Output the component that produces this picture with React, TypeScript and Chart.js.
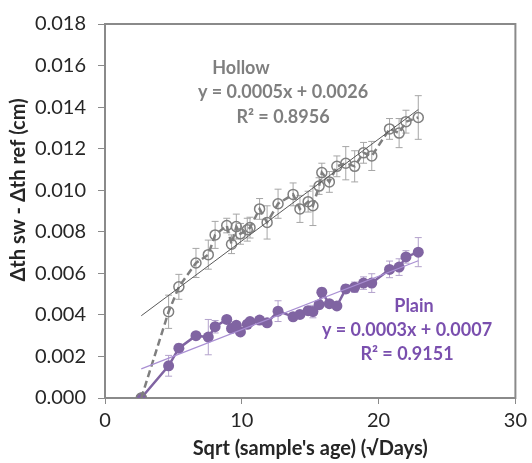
import React, { useEffect, useRef } from "react";
import { Chart, registerables } from "chart.js";
Chart.register(...registerables);

// x: sqrt of sample age (√days)
const ageSqrt = [2.65, 4.65, 5.4, 6.65, 7.55, 8.05, 8.9, 9.25, 9.6, 9.9, 10.4, 10.6, 11.3, 11.85, 12.65, 13.75, 14.25, 14.85, 15.2, 15.65, 15.85, 16.4, 16.95, 17.6, 18.25, 18.9, 19.5, 20.8, 21.5, 22.0, 22.9];
const hollow = [0, 0.00415, 0.00535, 0.0065, 0.0069, 0.00785, 0.0083, 0.0074, 0.00825, 0.0079, 0.0081, 0.0082, 0.0091, 0.00845, 0.00935, 0.0098, 0.0091, 0.00945, 0.00925, 0.0102, 0.01085, 0.0104, 0.01115, 0.0113, 0.01115, 0.0118, 0.01165, 0.01295, 0.01275, 0.0133, 0.0135];
const hollowErr = [0, 0.0008, 0.0006, 0.0007, 0.0007, 0.00065, 0.00035, 0.00045, 0.0006, 0.0005, 0.00055, 0.0005, 0.0005, 0.0008, 0.0007, 0.00055, 0.00065, 0.0005, 0.00095, 0.0004, 0.00045, 0.0005, 0.0005, 0.0008, 0.00075, 0.0005, 0.0007, 0.0005, 0.0007, 0.00055, 0.00105];
const plain = [0, 0.00155, 0.0024, 0.003, 0.00293, 0.00343, 0.00378, 0.00335, 0.0035, 0.00318, 0.00355, 0.00368, 0.00375, 0.00362, 0.00418, 0.00391, 0.00402, 0.0042, 0.00416, 0.00449, 0.00509, 0.00454, 0.00443, 0.00525, 0.00533, 0.00553, 0.00553, 0.00619, 0.0063, 0.00679, 0.00702];
const plainErr = [0, 0.0005, 0.0002, 0.00015, 0.00085, 0.0003, 0.0001, 0.0002, 0.00015, 0.00015, 0.00015, 0.00015, 0.0001, 0.00015, 0.0005, 0.00015, 0.00015, 0.0002, 0.0003, 0.0002, 0.0002, 0.00015, 0.00015, 0.0002, 0.00025, 0.0003, 0.00045, 0.0004, 0.0004, 0.0003, 0.0007];
// linear fits [slope, intercept]
const hollowFit = [0.00049, 0.00266];
const plainFit = [0.000257, 0.00072];
const hollowLabels = ["Hollow", "y = 0.0005x + 0.0026", "R² = 0.8956"];
const plainLabels = ["Plain", "y = 0.0003x + 0.0007", "R² = 0.9151"];
const xTitle = "Sqrt (sample's age) (√Days)";
const yTitle = "Δth sw - Δth ref (cm)";

const GRAY = "#7f7f7f";
const PURPLE = "#8064a2";
const PURPLE_TEXT = "#7a4fae";
const FONT = "Lato, 'Open Sans', sans-serif";

const pts = (ys: number[]) => ageSqrt.map((x, i) => ({ x, y: ys[i] }));
const fitPts = (f: number[]) => {
  const x0 = ageSqrt[0];
  const x1 = ageSqrt[ageSqrt.length - 1];
  return [
    { x: x0, y: f[0] * x0 + f[1] },
    { x: x1, y: f[0] * x1 + f[1] },
  ];
};

export default function App() {
  const ref = useRef<HTMLCanvasElement>(null);
  useEffect(() => {
    if (!ref.current) return;
    const errorPlugin = {
      id: "errbars",
      beforeDatasetsDraw(chart: any) {
        const { ctx, scales } = chart;
        const xs = scales.x, ys = scales.y;
        const { left, top, right, bottom } = chart.chartArea;
        ctx.save();
        ctx.strokeStyle = "#8a8a8a";
        ctx.lineWidth = 2;
        ctx.strokeRect(left, top, right - left, bottom - top);
        const draw = (vals: number[], errs: number[], color: string) => {
          ctx.strokeStyle = color;
          ctx.lineWidth = 1;
          ageSqrt.forEach((x, i) => {
            if (!errs[i]) return;
            const px = xs.getPixelForValue(x);
            const y1 = ys.getPixelForValue(vals[i] + errs[i]);
            const y2 = ys.getPixelForValue(vals[i] - errs[i]);
            ctx.beginPath();
            ctx.moveTo(px, y1);
            ctx.lineTo(px, y2);
            ctx.moveTo(px - 3.5, y1);
            ctx.lineTo(px + 3.5, y1);
            ctx.moveTo(px - 3.5, y2);
            ctx.lineTo(px + 3.5, y2);
            ctx.stroke();
          });
        };
        draw(hollow, hollowErr, "#a6a6a6");
        draw(plain, plainErr, "#b3a2cc");
        ctx.restore();
      },
      afterDraw(chart: any) {
        const { ctx } = chart;
        ctx.save();
        ctx.textAlign = "center";
        ctx.textBaseline = "middle";
        ctx.font = `bold 18px ${FONT}`;
        ctx.fillStyle = GRAY;
        ctx.fillText(hollowLabels[0], 241, 68);
        ctx.fillText(hollowLabels[1], 283, 92);
        ctx.fillText(hollowLabels[2], 283, 117);
        ctx.fillStyle = PURPLE_TEXT;
        ctx.fillText(plainLabels[0], 414, 306);
        ctx.fillText(plainLabels[1], 407, 330);
        ctx.fillText(plainLabels[2], 407, 354);
        // y axis title
        ctx.translate(19, 190);
        ctx.rotate(-Math.PI / 2);
        ctx.font = `bold 20px ${FONT}`;
        ctx.fillStyle = "#262626";
        ctx.fillText(yTitle, 0, 0);
        ctx.restore();
      },
    };
    const chart = new Chart(ref.current, {
      type: "scatter",
      data: {
        datasets: [
          {
            label: "Hollow fit",
            data: fitPts(hollowFit),
            showLine: true,
            borderColor: "#595959",
            borderWidth: 1,
            pointRadius: 0,
          },
          {
            label: "Plain fit",
            data: fitPts(plainFit),
            showLine: true,
            borderColor: "#a98fd3",
            borderWidth: 1.2,
            pointRadius: 0,
          },
          {
            label: "Hollow",
            data: pts(hollow),
            showLine: true,
            borderColor: GRAY,
            borderWidth: 2.5,
            borderDash: [7, 4],
            pointRadius: 5,
            pointBorderWidth: 1.5,
            pointBorderColor: GRAY,
            pointBackgroundColor: "rgba(0,0,0,0)",
          },
          {
            label: "Plain",
            data: pts(plain),
            showLine: true,
            borderColor: PURPLE,
            borderWidth: 2.5,
            pointRadius: 5.5,
            pointBorderWidth: 0,
            pointBackgroundColor: PURPLE,
          },
        ],
      },
      options: {
        responsive: true,
        maintainAspectRatio: false,
        animation: false,
        layout: { padding: { top: 16, right: 12, left: 0, bottom: 0 } },
        plugins: { legend: { display: false }, tooltip: { enabled: false } },
        scales: {
          x: {
            type: "linear",
            min: 0,
            max: 30,
            ticks: { stepSize: 10, color: "#262626", font: { family: FONT, size: 20 }, padding: 5 },
            grid: { drawOnChartArea: false, drawTicks: true, tickLength: 6, color: "#8a8a8a" },
            border: { display: false },
            title: { display: true, text: xTitle, color: "#262626", font: { family: FONT, size: 20, weight: "bold" }, padding: { top: 0, bottom: 2 } },
            afterFit(s: any) { s.height = 65; },
          },
          y: {
            type: "linear",
            min: 0,
            max: 0.018,
            ticks: { stepSize: 0.002, color: "#262626", font: { family: FONT, size: 20 }, padding: 12, callback: (v: any) => Number(v).toFixed(3) },
            grid: { drawOnChartArea: false, drawTicks: true, tickLength: 7, color: "#8a8a8a" },
            border: { display: false },
            title: { display: false },
            afterFit(s: any) { s.width = 105; },
          },
        },
      },
      plugins: [errorPlugin],
    });
    return () => chart.destroy();
  }, []);
  return (
    <div style={{ position: "fixed", left: 0, top: 0, width: 532, height: 463, background: "#fff" }}>
      <canvas ref={ref} />
    </div>
  );
}
